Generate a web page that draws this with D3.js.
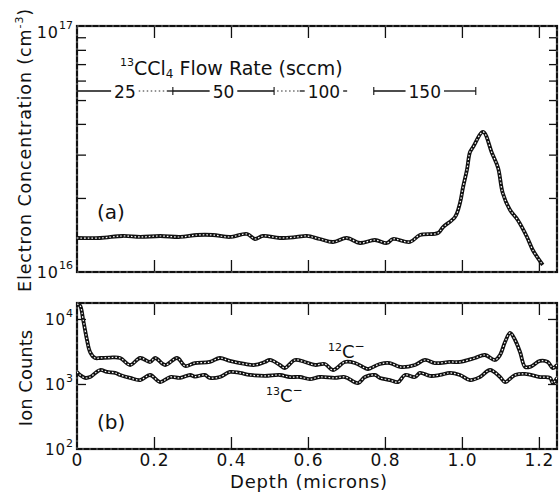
<!DOCTYPE html>
<html><head><meta charset="utf-8">
<script src="https://cdn.jsdelivr.net/npm/d3@7/dist/d3.min.js"></script>
<style>
body{margin:0;background:#fff}
svg{display:block}
text{font-family:"DejaVu Sans",sans-serif;fill:#111}
</style>
</head><body>
<svg id="c" width="560" height="496"></svg>
<script>
// ---------- data ----------
// (a) electron concentration vs depth
const depthA = [0, 0.060, 0.119, 0.164, 0.216, 0.268, 0.312, 0.353, 0.397, 0.442, 0.462, 0.483, 0.527, 0.571, 0.597, 0.631, 0.665, 0.701, 0.735, 0.774, 0.805, 0.821, 0.865, 0.891, 0.938, 0.951, 0.982, 0.995, 1.003, 1.013, 1.021, 1.029, 1.055, 1.078, 1.094, 1.106, 1.125, 1.145, 1.169, 1.184, 1.210];
const electronConc = [1.375e16, 1.375e16, 1.401e16, 1.388e16, 1.401e16, 1.388e16, 1.414e16, 1.414e16, 1.388e16, 1.427e16, 1.362e16, 1.401e16, 1.375e16, 1.388e16, 1.401e16, 1.362e16, 1.324e16, 1.375e16, 1.312e16, 1.349e16, 1.312e16, 1.362e16, 1.324e16, 1.414e16, 1.44e16, 1.523e16, 1.673e16, 1.908e16, 2.216e16, 2.60e16, 3.074e16, 3.22e16, 3.71e16, 3.045e16, 2.647e16, 2.095e16, 1.786e16, 1.627e16, 1.388e16, 1.229e16, 1.068e16];

// (b) ion counts vs depth
const depth12C = [0, 0.008, 0.016, 0.026, 0.034, 0.047, 0.060, 0.086, 0.112, 0.138, 0.164, 0.190, 0.203, 0.229, 0.260, 0.281, 0.306, 0.345, 0.371, 0.397, 0.436, 0.462, 0.488, 0.501, 0.527, 0.540, 0.566, 0.592, 0.618, 0.644, 0.665, 0.696, 0.722, 0.748, 0.756, 0.787, 0.813, 0.839, 0.878, 0.904, 0.930, 0.969, 0.995, 1.034, 1.060, 1.086, 1.099, 1.112, 1.125, 1.138, 1.151, 1.164, 1.177, 1.203, 1.223, 1.236, 1.247];
const counts12C = [17000, 16000, 9700, 4750, 3100, 2510, 2510, 2550, 2510, 1960, 2510, 2180, 2510, 1960, 2510, 1890, 2100, 2180, 2510, 2260, 2030, 1960, 2180, 2340, 1960, 1760, 2340, 2180, 1960, 2030, 1640, 2180, 2100, 1760, 1700, 2030, 2100, 1830, 1960, 2340, 2100, 2180, 2180, 2510, 2790, 2340, 2790, 4430, 6100, 4750, 3100, 1830, 1830, 2260, 2180, 1760, 1960];
const depth13C = [0, 0.008, 0.021, 0.034, 0.060, 0.078, 0.099, 0.112, 0.138, 0.164, 0.190, 0.216, 0.242, 0.268, 0.294, 0.306, 0.332, 0.345, 0.371, 0.397, 0.423, 0.449, 0.488, 0.527, 0.553, 0.579, 0.605, 0.631, 0.670, 0.696, 0.730, 0.748, 0.774, 0.787, 0.813, 0.834, 0.852, 0.878, 0.891, 0.917, 0.943, 0.969, 0.995, 1.021, 1.047, 1.073, 1.099, 1.112, 1.138, 1.164, 1.203, 1.229, 1.236, 1.247];
const counts13C = [1530, 1375, 1240, 1280, 1640, 1530, 1480, 1375, 1240, 1150, 1375, 1070, 1280, 1240, 1375, 1300, 1375, 1240, 1280, 1530, 1480, 1375, 1330, 1375, 1280, 1280, 1190, 1280, 1240, 1280, 1035, 1280, 1375, 1240, 1150, 1070, 1375, 1280, 1480, 1330, 1375, 1480, 1375, 1150, 1280, 1640, 1280, 1070, 1375, 1430, 1280, 1240, 1035, 1240];

// flow-rate annotation
const flowRates = ["25", "50", "100", "150"];
const flowBounds = [0, 0.249, 0.512, 0.771, 1.036];

// ticks
const xTicks = [0, 0.2, 0.4, 0.6, 0.8, 1.0, 1.2];
const xTickLabels = ["0", "0.2", "0.4", "0.6", "0.8", "1.0", "1.2"];
const topMinorTicks = [2e16, 3e16, 4e16, 5e16, 6e16, 7e16, 8e16, 9e16];
const topYTicks = [1e16, 1e17];
const topYExps = ["16", "17"];
const botYTicks = [1e2, 1e3, 1e4];
const botYExps = ["2", "3", "4"];

// ---------- layout ----------
const L = 77, R = 557;
const aTop = 26, aBot = 272, bTop = 303, bBot = 449;
const ink = "#111";

const svg = d3.select("#c");
const x = d3.scaleLinear().domain([0, 1.247]).range([L, R]);
const yA = d3.scaleLog().domain([1e16, 1e17]).range([aBot, aTop]);
const yB = d3.scaleLog().domain([100, 17600]).range([bBot, bTop]);

const defs = svg.append("defs");
defs.append("clipPath").attr("id", "clipA").append("rect").attr("x", L).attr("y", aTop).attr("width", R - L).attr("height", aBot - aTop);
defs.append("clipPath").attr("id", "clipB").append("rect").attr("x", L).attr("y", bTop).attr("width", R - L).attr("height", bBot - bTop);

function styleAxis(g) {
  g.select(".domain").remove();
  g.selectAll("line").attr("stroke", ink).attr("stroke-width", 1.3);
}

// ---- ticks panel (a)
svg.append("g").attr("transform", `translate(0,${aTop})`)
  .call(d3.axisTop(x).tickValues(xTicks.slice(1)).tickSize(-12).tickFormat(""))
  .call(styleAxis);
svg.append("g").attr("transform", `translate(0,${aBot})`)
  .call(d3.axisBottom(x).tickValues(xTicks.slice(1)).tickSize(-12).tickFormat(""))
  .call(styleAxis);
svg.append("g").attr("transform", `translate(${L},0)`)
  .call(d3.axisLeft(yA).tickValues(topMinorTicks).tickSize(-9).tickFormat(""))
  .call(styleAxis);
svg.append("g").attr("transform", `translate(${R},0)`)
  .call(d3.axisRight(yA).tickValues(topMinorTicks).tickSize(-8).tickFormat(""))
  .call(styleAxis);

// ---- ticks panel (b)
svg.append("g").attr("transform", `translate(0,${bTop})`)
  .call(d3.axisTop(x).tickValues(xTicks.slice(1)).tickSize(-12).tickFormat(""))
  .call(styleAxis);
const xAxB = svg.append("g").attr("transform", `translate(0,${bBot})`)
  .call(d3.axisBottom(x).tickValues(xTicks).tickSize(-12).tickPadding(5)
    .tickFormat((d, i) => xTickLabels[i]))
  .call(styleAxis);
xAxB.attr("font-size", null).attr("font-family", null);
xAxB.selectAll("text").attr("font-size", 17).attr("letter-spacing", 1).attr("fill", ink);
xAxB.selectAll(".tick").filter(d => d === 0).select("line").remove();
svg.append("g").attr("transform", `translate(${L},0)`)
  .call(d3.axisLeft(yB).tickValues(botYTicks.slice(1)).tickSize(-9).tickFormat(""))
  .call(styleAxis);
svg.append("g").attr("transform", `translate(${R},0)`)
  .call(d3.axisRight(yB).tickValues(botYTicks.slice(1)).tickSize(-9).tickFormat(""))
  .call(styleAxis);

// ---- frames
[[aTop, aBot], [bTop, bBot]].forEach(([t, b]) => {
  svg.append("rect").attr("x", L).attr("y", t).attr("width", R - L).attr("height", b - t)
    .attr("fill", "none").attr("stroke", ink).attr("stroke-width", 2.2);
  svg.append("rect").attr("x", L).attr("y", t).attr("width", R - L).attr("height", b - t)
    .attr("fill", "none").attr("stroke", "#fff").attr("stroke-width", 0.5)
    .attr("stroke-dasharray", "2 5").attr("opacity", 0.8);
});

// ---- curves (double "chain" line look)
function chain(g, pts, xs, ys, clip) {
  const line = d3.line().x(d => xs(d[0])).y(d => ys(d[1])).curve(d3.curveCatmullRom.alpha(0.5));
  const gg = g.append("g").attr("clip-path", `url(#${clip})`);
  gg.append("path").attr("d", line(pts)).attr("fill", "none").attr("stroke", ink)
    .attr("stroke-width", 3.8).attr("stroke-linejoin", "round");
  gg.append("path").attr("d", line(pts)).attr("fill", "none").attr("stroke", "#fff")
    .attr("stroke-width", 1.2).attr("stroke-dasharray", "1.6 2");
}
chain(svg, depthA.map((d, i) => [d, electronConc[i]]), x, yA, "clipA");
chain(svg, depth12C.map((d, i) => [d, counts12C[i]]), x, yB, "clipB");
chain(svg, depth13C.map((d, i) => [d, counts13C[i]]), x, yB, "clipB");

// ---- y tick labels with exponents
function decadeLabels(vals, exps, ys, size, supSize, top) {
  vals.forEach((v, i) => {
    const yy = Math.max(ys(v) + 6, top + 12);
    const t = svg.append("text").attr("x", L - 4).attr("y", yy).attr("text-anchor", "end")
      .attr("font-size", size);
    t.append("tspan").text("10").attr("letter-spacing", 1);
    t.append("tspan").text(exps[i]).attr("font-size", supSize).attr("dy", -size * 0.55);
  });
}
decadeLabels(topYTicks, topYExps, yA, 16, 11, aTop);
decadeLabels(botYTicks, botYExps, yB, 15, 11, bTop);

// ---- axis titles
const tA = svg.append("text").attr("transform", `translate(31,${(aTop + aBot) / 2 + 1}) rotate(-90)`)
  .attr("text-anchor", "middle").attr("font-size", 17.5).attr("letter-spacing", 0.9);
tA.append("tspan").text("Electron Concentration (cm");
tA.append("tspan").text("-3").attr("font-size", 11).attr("dy", -8);
tA.append("tspan").text(")").attr("dy", 8);

svg.append("text").attr("transform", `translate(32,${(bTop + bBot) / 2 + 2}) rotate(-90)`)
  .attr("text-anchor", "middle").attr("font-size", 18).text("Ion Counts");

svg.append("text").attr("x", (L + R) / 2 - 8).attr("y", 488).attr("text-anchor", "middle")
  .attr("font-size", 18).attr("letter-spacing", 0.8).text("Depth (microns)");

// ---- panel letters
svg.append("text").attr("x", 97).attr("y", 219).attr("font-size", 20).text("(a)");
svg.append("text").attr("x", 97).attr("y", 429).attr("font-size", 20).text("(b)");

// ---- series labels
function ionLabel(xx, yy, iso) {
  const t = svg.append("text").attr("x", xx).attr("y", yy).attr("font-size", 18);
  t.append("tspan").text(iso).attr("font-size", 11).attr("dy", -7);
  t.append("tspan").text("C").attr("dy", 7);
  t.append("tspan").text("\u2212").attr("font-size", 12).attr("dy", -8);
}
ionLabel(328, 358, "12");
ionLabel(266, 402, "13");

// ---- flow rate annotation
const ft = svg.append("text").attr("x", 120).attr("y", 75).attr("font-size", 19);
ft.append("tspan").text("13").attr("font-size", 11).attr("dy", -9);
ft.append("tspan").text("CCl").attr("dy", 9);
ft.append("tspan").text("4").attr("font-size", 12).attr("dy", 3);
ft.append("tspan").text(" Flow Rate (sccm)").attr("dy", -3);

const barY = 91;
const fg = svg.append("g");
flowRates.forEach((lab, i) => {
  const x0 = x(flowBounds[i]), x1 = x(flowBounds[i + 1]);
  const cx = (x0 + x1) / 2;
  const txt = fg.append("text").attr("x", cx).attr("y", barY + 7).attr("text-anchor", "middle")
    .attr("font-size", 17).text(lab);
  const w = txt.node().getComputedTextLength();
  const a = cx - w / 2 - 3, b = cx + w / 2 + 3;
  const leftDotted = (i === 2);
  const rightDotted = (i === 0);
  const seg = (p, q, dotted) => fg.append("line").attr("x1", p).attr("x2", q).attr("y1", barY).attr("y2", barY)
    .attr("stroke", ink).attr("stroke-width", dotted ? 0.9 : 1.3)
    .attr("stroke-dasharray", dotted ? "1.5 2.5" : null);
  if (leftDotted) { seg(x0 + 3, a - 5, true); seg(a - 5, a, false); } else seg(x0, a, false);
  if (rightDotted) { seg(b, x1 - 6, true); seg(x1 - 6, x1, false); }
  else if (i === 2) seg(b, b + 4, false);
  else seg(b, x1, false);
  if (flowBounds[i] > 0) {
    fg.append("line").attr("x1", x0).attr("x2", x0).attr("y1", barY - 4).attr("y2", barY + 4)
      .attr("stroke", ink).attr("stroke-width", 1.1);
  }
  if (i === flowRates.length - 1) {
    fg.append("line").attr("x1", x1).attr("x2", x1).attr("y1", barY - 4).attr("y2", barY + 4)
      .attr("stroke", ink).attr("stroke-width", 1.1);
  }
});
</script>
</body></html>
